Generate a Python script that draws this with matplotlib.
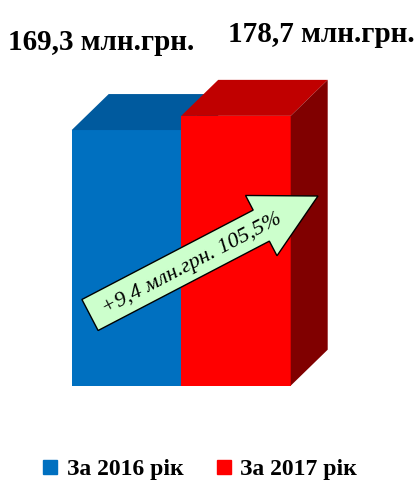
import numpy as np
import matplotlib.pyplot as plt
from matplotlib.patches import Polygon, FancyArrow
from matplotlib.lines import Line2D

years = ["За 2016 рік", "За 2017 рік"]
values = [169.3, 178.7]
value_labels = ["169,3 млн.грн.", "178,7 млн.грн."]
change_label = "+9,4 млн.грн. 105,5%"

front = ["#0070C0", "#FF0000"]
top = ["#005A9E", "#C00000"]
side = ["#004C80", "#800000"]

W, H = 416, 486
fig = plt.figure(figsize=(W / 100, H / 100), dpi=100)
ax = fig.add_axes([71.7 / W, 100.3 / H, 219 / W, 302 / H])
ax.set_xlim(-0.5, 1.5)
ax.set_ylim(0, 200)
ax.axis("off")

# depth of the 3d boxes in data units
dx, dy = 37 / 109.5, 36 / 1.51

x = np.arange(len(values))
bars = ax.bar(x, values, width=1.0, color=front, linewidth=0)
for i, (b, h) in enumerate(zip(bars, values)):
    z = 2 + 3 * i
    b.set_zorder(z)
    x0, x1 = i - 0.5, i + 0.5
    ax.add_patch(Polygon([(x0, h), (x1, h), (x1 + dx, h + dy), (x0 + dx, h + dy)],
                         closed=True, fc=top[i], lw=0, zorder=z, clip_on=False))
    ax.add_patch(Polygon([(x1, 0), (x1 + dx, dy), (x1 + dx, h + dy), (x1, h)],
                         closed=True, fc=side[i], lw=0, zorder=z, clip_on=False))

offsets = [(-62, 52), (48, 45)]
for i, h in enumerate(values):
    ax.annotate(value_labels[i], xy=(i + dx, h + dy), xytext=offsets[i],
                textcoords="offset pixels", ha="center", va="center",
                fontsize=21, fontweight="bold", family="Liberation Serif",
                annotation_clip=False)

# growth arrow overlay in pixel coordinates
ov = fig.add_axes([0, 0, 1, 1])
ov.set_xlim(0, W)
ov.set_ylim(H, 0)
ov.axis("off")
ov.patch.set_alpha(0)
ov.add_patch(FancyArrow(90, 315, 228, -119, width=35, head_width=68, head_length=64,
                        length_includes_head=True, fc="#CCFFCC", ec="black", lw=1))
ov.text(192, 264, change_label, rotation=27.6, rotation_mode="anchor",
        ha="center", va="center", fontsize=16, style="italic",
        family="Liberation Serif")

handles = [Line2D([], [], marker="s", ls="", color=c, markersize=9.5) for c in front]
fig.legend(handles, years, loc="center", bbox_to_anchor=(199 / W, 17 / H), ncol=2,
           frameon=False, handletextpad=0.3, columnspacing=1.3, handlelength=0.8,
           prop=dict(family="Liberation Serif", weight="bold", size=17))

fig.savefig("out.png", dpi=100)
